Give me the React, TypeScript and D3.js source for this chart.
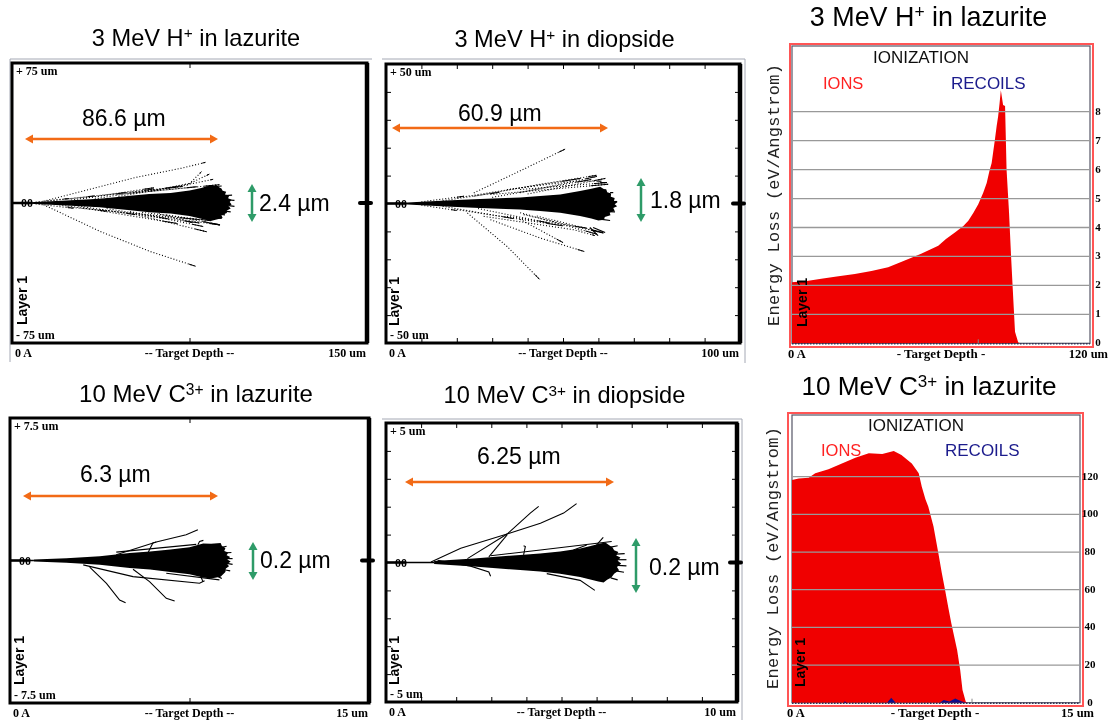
import React, { useEffect, useRef } from 'react';
import * as d3 from 'd3';

type Pt = [number, number];

// SRIM track plots: depth (um), lateral (um)
const hullLazuriteH: Pt[] = [[5, .3], [12, .7], [23, 1.4], [37, 2.3], [50, 3.9], [58, 4.8], [67, 5.4], [75, 6.7], [80, 8], [84, 9.6], [85.5, 9], [86, 9.9], [87.5, 8.4], [88.5, 7.8], [89, 6.6], [90.5, 6], [90, 4.6], [91.8, 4], [91.3, 2.6], [92.8, 1.8], [92, .6], [92.8, -.8], [91.5, -1.6], [92.4, -3], [90.8, -4], [90.8, -5.4], [88.5, -6.5], [89, -8], [86, -9], [84, -9.6], [75, -6.9], [67, -5.6], [58, -4.9], [50, -3.9], [37, -2.3], [23, -1.4], [12, -.7], [5, -.3]];
const tracksLazuriteH: Pt[][] = [
  [[13.3, .9], [51.2, 13.4], [72.2, 18.8], [81.8, 21.8]],
  [[13.3, -.9], [37.2, -15.2], [58.2, -25.9], [77.6, -33.9]],
  [[51.2, 5.4], [74.4, 9.6], [80.1, 16.8]],
  [[58.2, 6.3], [75.2, 10.5], [83.4, 15.5]],
  [[65.2, 8], [76.6, 10.5], [85, 12.7]],
  [[49.9, -5.4], [82.2, -15.4]],
  [[65.2, -6.3], [87.7, -11.6]],
  [[37.2, -3.6], [79.2, -10.7]],
  [[44.2, 4.5], [87.7, 9.8]],
  [[23.1, 2.1], [72.2, 8.9]],
  [[23.1, -2.1], [79.2, -8.9]],
  [[30, 2.4], [60, 8.2]],
  [[30, -2.6], [70, -11]],
  [[15, 1], [35, 3.8]],
  [[20, -1], [40, -4.5]],
  [[25, 1.6], [48, 5.6]],
  [[28, -1.6], [52, -6.2]],
  [[35, 2.2], [60, 7.6]],
  [[40, -3], [66, -8.5]],
  [[45, 3.5], [70, 8.8]],
  [[10, .5], [24, 2.4]],
  [[10, -.5], [26, -2.8]],
  [[49.9, -4.6], [80.8, -12.6]],
  [[58.3, -6.4], [87.9, -11.8]],
  [[49.9, 5.2], [78, 8.7]],
  [[55, -5], [84, -9.5]],
  [[62, -5.6], [76, -10.5]],
];
const whiskersLazuriteH: Pt[][] = [
  [[81.6, -7.3], [88.6, -8.2]], [[80.8, -10], [87.9, -11.8]], [[83.7, -5.4], [90, -6.4]], [[85, 8.7], [88.6, 9.1]],
  [[90, 4], [93, 4.2]], [[91.6, 1.6], [94, 1.4]], [[91.6, -1.4], [94, -1.8]], [[90, -4.4], [92.4, -4.8]],
];

const hullDiopsideH: Pt[] = [[4, .2], [6, .36], [15.5, .96], [24.8, 1.5], [37.9, 2.15], [43.5, 2.7], [49.2, 3.2], [54.8, 4.5], [58, 5.3], [60.5, 6], [61.5, 5.2], [62.2, 5.1], [62.5, 4], [63.6, 3.6], [63.5, 2.4], [64.6, 2], [64.4, .9], [65.4, .5], [64.6, -.3], [65.3, -1], [64.2, -1.6], [64.6, -2.6], [63.2, -3.2], [63.4, -4.2], [61.8, -4.8], [61.6, -5.8], [60, -6.1], [58, -5.4], [54.8, -4.5], [49.2, -3.3], [43.5, -2.7], [37.9, -2.15], [24.8, -1.5], [15.5, -1], [6, -.36], [4, -.2]];
const tracksDiopsideH: Pt[][] = [
  [[24.8, 3.8], [38.9, 12.3], [50.6, 19.5]],
  [[23, -3.4], [34.2, -15.4], [43.4, -27.2]],
  [[29.5, -5.8], [43.6, -12.4], [56, -17.2]],
  [[27.6, -4.6], [53, -9.4], [59, -11.5]],
  [[24.8, 2.6], [43.6, 6.9], [59.5, 10.1]],
  [[34.2, 5], [53, 8], [60.9, 8]],
  [[38.9, -4], [61.4, -10.6]],
  [[29.5, 3.2], [62.8, 6.9]],
  [[34.2, -4.6], [56.7, -8.8]],
  [[20, 2], [55, 9]],
  [[20, -2.2], [50, -8]],
  [[10, .6], [22, 2.6]],
  [[10, -.6], [20, -2.5]],
  [[16, 1], [32, 4]],
  [[16, -1], [36, -5.4]],
  [[30, 2.2], [58, 8.6]],
  [[26, -1.8], [46, -7]],
  [[40, 3.4], [62, 9]],
  [[37.9, 3.9], [59.6, 9.7]],
  [[37.9, 5], [62.4, 7.5]],
  [[37.9, -3.3], [59.6, -11]],
  [[42.6, -4.5], [61.3, -10.4]],
  [[37.9, -5.7], [50, -14]],
];
const whiskersDiopsideH: Pt[][] = [
  [[58.5, -8.6], [61.9, -10.4]], [[57.6, -8.6], [59.9, -11.5]], [[61, -5.7], [63.3, -6.1]], [[62.7, -2.9], [64.7, -3]],
  [[63.8, .7], [65.3, .7]], [[63.3, 3.9], [64.2, 3.9]], [[60.5, 7.5], [62.4, 7.5]],
];

const hullLazuriteC: Pt[] = [[1, .05], [2.36, .12], [3.75, .23], [5, .39], [5.85, .47], [6.7, .58], [7.5, .7], [8.07, .9], [8.4, .88], [8.8, .92], [8.85, .78], [9, .65], [8.95, .5], [9.12, .42], [9.05, .28], [9.2, .18], [9.08, .05], [9.22, -.05], [9.08, -.18], [9.15, -.3], [9.02, -.42], [9, -.6], [8.8, -.85], [8.4, -.95], [8.07, -.9], [7.5, -.72], [6.7, -.6], [5.85, -.47], [5, -.39], [3.75, -.23], [2.36, -.12], [1, -.05]];
const tracksLazuriteC: Pt[][] = [
  [[4.44, .3], [6.11, .97], [7.36, 1.36], [7.85, 1.62]],
  [[3.33, -.35], [4.03, -1.2], [4.58, -2.08], [4.83, -2.22]],
  [[5.14, -.46], [5.83, -1.11], [6.53, -1.99], [6.88, -2.13]],
  [[3.06, -.23], [5.14, -.85], [7.92, -1.2], [8.13, -1.06]],
  [[5.76, .39], [5.97, .92], [6.11, .97]],
  [[7.85, .83], [7.92, 1], [8.08, 1.06]],
  [[7.92, -.67], [8.06, -1.11]],
  [[6.53, -.67], [8.75, -1.02]],
  [[4.44, .44], [7.78, .85]],
];
const whiskersLazuriteC: Pt[][] = [
  [[8.9, .7], [9.05, .75]], [[9, .4], [9.25, .42]], [[9.05, .1], [9.3, .1]], [[9.05, -.15], [9.3, -.2]], [[9, -.5], [9.2, -.55]], [[8.7, -.85], [8.85, -.95]],
];

const hullDiopsideC: Pt[] = [[1.37, .05], [2.5, .14], [3.82, .27], [4.39, .32], [4.96, .39], [5.53, .5], [5.8, .58], [6.1, .68], [6.25, .72], [6.38, .6], [6.45, .55], [6.5, .44], [6.62, .38], [6.56, .25], [6.68, .18], [6.6, .06], [6.7, -.04], [6.58, -.16], [6.64, -.28], [6.5, -.4], [6.42, -.54], [6.3, -.62], [6.2, -.72], [6.05, -.68], [5.53, -.52], [4.96, -.4], [4.39, -.32], [3.82, -.27], [2.5, -.14], [1.37, -.05]];
const tracksDiopsideC: Pt[][] = [
  [[1.28, .02], [2.13, .51], [3.45, 1.02], [4.4, 1.41], [5.06, 1.77], [5.43, 2.11]],
  [[2.32, .14], [3.45, 1.02], [4.11, 1.77], [4.35, 2.01]],
  [[2.93, .2], [3.45, .99]],
  [[1.47, .08], [2.41, -.13], [2.93, -.34], [2.98, -.49]],
  [[2.98, .24], [4.4, .45], [6.43, .75]],
  [[3.92, .27], [3.97, .57], [3.92, .6]],
  [[4.58, -.4], [5.53, -.64], [5.95, -1]],
  [[6, .63], [6.19, .9]],
  [[5.34, .45], [5.72, .63]],
];
const whiskersDiopsideC: Pt[][] = [
  [[6.4, .55], [6.6, .6]], [[6.55, .3], [6.8, .32]], [[6.6, .1], [6.85, .1]], [[6.6, -.1], [6.85, -.12]], [[6.55, -.3], [6.78, -.35]], [[6.4, -.55], [6.6, -.62]],
];

// ionization curves: depth (um), energy loss (eV/Angstrom)
const ionsH: Pt[] = [[0, 2.11], [6, 2.15], [11.8, 2.23], [18, 2.31], [25.3, 2.39], [32, 2.5], [38.7, 2.63], [45.4, 2.86], [52, 3.09], [58.9, 3.37], [62, 3.6], [65.6, 3.83], [69, 4.05], [71, 4.23], [73, 4.5], [75, 4.8], [77, 5.2], [78.4, 5.54], [79.5, 5.95], [80.4, 6.23], [81, 6.6], [81.7, 7.03], [82.4, 7.5], [83, 7.83], [83.6, 8.3], [84.1, 8.74], [85, 8.23], [85.8, 8.2], [86.4, 6], [87.4, 4.51], [88.2, 3.03], [89.1, 1.54], [89.8, .4], [91.1, .03], [92, 0]];
const ionsC: Pt[] = [[0, 118.2], [.35, 119], [.87, 119.5], [1.21, 121.8], [1.9, 124], [2.6, 127], [3.3, 130], [4, 132.4], [4.7, 132], [5.3, 133.7], [5.7, 131.5], [6.24, 127], [6.6, 121.8], [6.76, 114.7], [6.95, 108], [7.1, 104], [7.37, 93.5], [7.63, 79], [7.8, 69], [7.98, 59.5], [8.15, 50], [8.3, 42], [8.6, 28], [8.76, 17.3], [8.88, 6.7], [9.05, .5], [9.15, 0]];
const recoilsC: Pt[] = [[2.7, 0], [2.75, .8], [2.85, 0], [4.95, 0], [5.17, 2.6], [5.4, 0], [7.7, 0], [7.9, 1.4], [8.2, .6], [8.5, 2.2], [8.85, .6], [9.1, 0]];

const ticksY = { energyH: [0, 1, 2, 3, 4, 5, 6, 7, 8], energyC: [0, 20, 40, 60, 80, 100, 120] };

const trackPanels = [
  {
    title: ['3 MeV H', '+', ' in lazurite'], titleX: 196, titleY: 45.5, titleSize: 23.6, xMax: 150, yMax: 75, hull: hullLazuriteH, tracks: tracksLazuriteH, whiskers: whiskersLazuriteH, dotted: true,
    xTicks: [75], yTicks: [] as number[], box: { l: 12, r: 367, t: 63, b: 343 }, topLabel: '+ 75 um', botLabel: '- 75 um', endLabel: '150 um',
    rangeText: '86.6 µm', rangeTextX: 82, rangeTextY: 126, rangeArrow: { x0: 25, x1: 218, y: 139 },
    widthText: '2.4 µm', widthTextX: 259, widthTextY: 211, widthArrow: { x: 252, y0: 184, y1: 222 }, layerX: 27, layerY: 325,
    halo: [[[10, 362], [10, 59], [372, 59]]] as Pt[][],
  },
  {
    title: ['3 MeV H', '+', ' in diopside'], titleX: 564.5, titleY: 47, titleSize: 23.6, xMax: 100, yMax: 50, hull: hullDiopsideH, tracks: tracksDiopsideH, whiskers: whiskersDiopsideH, dotted: true,
    xTicks: [10, 20, 30, 40, 50, 60, 70, 80, 90], yTicks: [-40, -30, -20, -10, 10, 20, 30, 40], box: { l: 386, r: 740, t: 64, b: 343 }, topLabel: '+ 50 um', botLabel: '- 50 um', endLabel: '100 um',
    rangeText: '60.9 µm', rangeTextX: 458, rangeTextY: 121, rangeArrow: { x0: 392, x1: 608, y: 128 },
    widthText: '1.8 µm', widthTextX: 650, widthTextY: 208, widthArrow: { x: 641, y0: 178, y1: 222 }, layerX: 399, layerY: 326,
    halo: [[[382, 59], [745, 59], [745, 363]]] as Pt[][],
  },
  {
    title: ['10 MeV C', '3+', ' in lazurite'], titleX: 196, titleY: 402, titleSize: 24, xMax: 15, yMax: 7.5, hull: hullLazuriteC, tracks: tracksLazuriteC, whiskers: whiskersLazuriteC, dotted: false,
    xTicks: [7.5], yTicks: [] as number[], box: { l: 10, r: 369, t: 418, b: 703 }, topLabel: '+ 7.5 um', botLabel: '- 7.5 um', endLabel: '15 um',
    rangeText: '6.3 µm', rangeTextX: 80, rangeTextY: 482, rangeArrow: { x0: 23, x1: 218, y: 496 },
    widthText: '0.2 µm', widthTextX: 260, widthTextY: 568, widthArrow: { x: 253, y0: 542, y1: 580 }, layerX: 24, layerY: 685,
    halo: [] as Pt[][],
  },
  {
    title: ['10 MeV C', '3+', ' in diopside'], titleX: 564.5, titleY: 403, titleSize: 23.6, xMax: 10, yMax: 5, hull: hullDiopsideC, tracks: tracksDiopsideC, whiskers: whiskersDiopsideC, dotted: false,
    xTicks: [1, 2, 3, 4, 5, 6, 7, 8, 9], yTicks: [-4, -3, -2, -1, 1, 2, 3, 4], box: { l: 386, r: 737, t: 423, b: 702 }, topLabel: '+ 5 um', botLabel: '- 5 um', endLabel: '10 um',
    rangeText: '6.25 µm', rangeTextX: 477, rangeTextY: 464, rangeArrow: { x0: 405, x1: 614, y: 482 },
    widthText: '0.2 µm', widthTextX: 649, widthTextY: 575, widthArrow: { x: 636, y0: 538, y1: 593 }, layerX: 399, layerY: 685,
    halo: [[[382, 419], [742, 419], [742, 720]]] as Pt[][],
  },
];

const ionPanels = [
  {
    title: ['3 MeV H', '+', ' in lazurite'], titleX: 928.5, titleY: 26, titleSize: 26.9, xMax: 120, yMax: 8, yTicks: ticksY.energyH, ions: ionsH, recoils: [] as Pt[],
    box: { l: 792, r: 1090, t: 46, b: 343.3, yTop: 111.7 }, outer: { l: 790, r: 1093, t: 44, b: 347 }, tickX: 1098, endLabel: '120 um', endX: 1108, baseY: 358, midX: 941, startX: 788,
    ionizationX: 921, ionizationY: 63, ionsX: 823, recoilsX: 951, labelsY: 89, yLabelX: 779, yLabelY: 195, layerX: 807, layerY: 327,
  },
  {
    title: ['10 MeV C', '3+', ' in lazurite'], titleX: 929, titleY: 395, titleSize: 26.2, xMax: 15, yMax: 120, yTicks: ticksY.energyC, ions: ionsC, recoils: recoilsC,
    box: { l: 792, r: 1080, t: 415, b: 702.7, yTop: 476.7 }, outer: { l: 788, r: 1083, t: 413, b: 706 }, tickX: 1090, endLabel: '15 um', endX: 1094, baseY: 717, midX: 935, startX: 787,
    ionizationX: 916, ionizationY: 431, ionsX: 821, recoilsX: 945, labelsY: 456, yLabelX: 778, yLabelY: 558, layerX: 805, layerY: 687,
  },
];

const SANS = '"Liberation Sans", Arial, sans-serif';
const SERIF = '"Liberation Serif", serif';
const MONO = '"Liberation Mono", monospace';
const ORANGE = '#f26a12';
const GREEN = '#2e9b68';

const addText = (g, x, y, str, size, opts: any = {}) =>
  g.append('text')
    .attr('x', x).attr('y', y)
    .attr('font-family', opts.family || SANS)
    .attr('font-size', size)
    .attr('font-weight', opts.weight || 'normal')
    .attr('fill', opts.fill || '#000')
    .attr('text-anchor', opts.anchor || 'start')
    .text(str);

const addTitle = (g, parts, x, y, size) => {
  const t = g.append('text')
    .attr('x', x).attr('y', y)
    .attr('font-family', SANS).attr('font-size', size)
    .attr('text-anchor', 'middle');
  const shift = size * 0.3;
  t.append('tspan').text(parts[0]);
  t.append('tspan').attr('dy', -shift).attr('font-size', size * 0.65).text(parts[1]);
  t.append('tspan').attr('dy', shift).text(parts[2]);
};

const addLayer = (g, x, y) =>
  addText(g, x, y, 'Layer 1', 14, { weight: 'bold' })
    .attr('transform', `rotate(-90,${x},${y})`);

// double headed block arrow
const addArrow = (g, x0, y0, x1, y1, color) => {
  const head = 8, half = 4.5;
  const horizontal = y0 === y1;
  g.append('line')
    .attr('x1', horizontal ? x0 + head / 2 : x0).attr('y1', horizontal ? y0 : y0 + head / 2)
    .attr('x2', horizontal ? x1 - head / 2 : x1).attr('y2', horizontal ? y1 : y1 - head / 2)
    .attr('stroke', color).attr('stroke-width', 2.5);
  const tri: Pt[][] = horizontal
    ? [[[x0, y0], [x0 + head, y0 - half], [x0 + head, y0 + half]], [[x1, y1], [x1 - head, y1 - half], [x1 - head, y1 + half]]]
    : [[[x0, y0], [x0 - half, y0 + head], [x0 + half, y0 + head]], [[x1, y1], [x1 - half, y1 - head], [x1 + half, y1 - head]]];
  tri.forEach(p => g.append('polygon').attr('points', p.join(' ')).attr('fill', color));
};

const drawTrackPanel = (svg, p) => {
  const { l, r, t, b } = p.box;
  const x = d3.scaleLinear().domain([0, p.xMax]).range([l, r]);
  const y = d3.scaleLinear().domain([-p.yMax, p.yMax]).range([b, t]);
  const g = svg.append('g');

  addTitle(g, p.title, p.titleX, p.titleY, p.titleSize);

  p.halo.forEach(h => {
    g.append('path').attr('d', d3.line()(h)).attr('fill', 'none').attr('stroke', '#a4a8b4');
  });
  g.append('rect').attr('x', l).attr('y', t).attr('width', r - l).attr('height', b - t).attr('fill', '#fff');

  // inward ticks on all four sides
  const tickLen = 5;
  g.append('g').attr('transform', `translate(0,${b})`)
    .call(d3.axisTop(x).tickValues(p.xTicks).tickSize(tickLen).tickFormat(() => ''));
  g.append('g').attr('transform', `translate(0,${t})`)
    .call(d3.axisBottom(x).tickValues(p.xTicks).tickSize(tickLen).tickFormat(() => ''));
  g.append('g').attr('transform', `translate(${l},0)`)
    .call(d3.axisRight(y).tickValues(p.yTicks).tickSize(tickLen).tickFormat(() => ''));
  g.append('g').attr('transform', `translate(${r},0)`)
    .call(d3.axisLeft(y).tickValues(p.yTicks).tickSize(tickLen).tickFormat(() => ''));
  g.selectAll('.domain').remove();

  const line = d3.line().x(d => x(d[0])).y(d => y(d[1]));

  // tracks first, then the dense core on top
  p.tracks.forEach(tr => {
    g.append('path').attr('d', line(tr)).attr('fill', 'none')
      .attr('stroke', '#000').attr('stroke-width', 1.1)
      .attr('stroke-dasharray', p.dotted ? '1 2' : null);
    if (p.dotted) {
      // the last stretch of each ion path reads as solid
      const last = tr[tr.length - 1], prev = tr[tr.length - 2];
      const tail: Pt[] = [[prev[0] + (last[0] - prev[0]) * 0.85, prev[1] + (last[1] - prev[1]) * 0.85], last];
      g.append('path').attr('d', line(tail)).attr('stroke', '#000').attr('stroke-width', 1).attr('fill', 'none');
    }
  });
  p.whiskers.forEach(tr => {
    g.append('path').attr('d', line(tr)).attr('fill', 'none').attr('stroke', '#000').attr('stroke-width', 1.2);
  });
  g.append('path').attr('d', line(p.hull) + 'Z').attr('fill', '#000');
  g.append('line')
    .attr('x1', x(0)).attr('x2', x(p.hull[0][0])).attr('y1', y(0)).attr('y2', y(0))
    .attr('stroke', '#000').attr('stroke-width', 1.5);
  g.append('line')
    .attr('x1', x(0)).attr('x2', x(0) + 20).attr('y1', y(0)).attr('y2', y(0))
    .attr('stroke', '#000').attr('stroke-width', 2.5);

  // heavy frame, right side thickest
  g.append('rect').attr('x', l).attr('y', t).attr('width', r - l).attr('height', b - t)
    .attr('fill', 'none').attr('stroke', '#000').attr('stroke-width', 3);
  g.append('line').attr('x1', r).attr('x2', r).attr('y1', t).attr('y2', b).attr('stroke', '#000').attr('stroke-width', 4.5);
  g.append('line')
    .attr('x1', r - 7).attr('x2', r + 4).attr('y1', y(0)).attr('y2', y(0))
    .attr('stroke', '#000').attr('stroke-width', 4).attr('stroke-linecap', 'round');

  const lab = { family: SERIF, weight: 'bold' };
  addText(g, l + 4, t + 12, p.topLabel, 12, lab);
  addText(g, l + 4, b - 4, p.botLabel, 12, lab);
  addText(g, l + 9, y(0) + 4, '00', 12, lab);
  addText(g, l + 3, b + 14, '0 A', 12, lab);
  addText(g, (l + r) / 2, b + 14, '-- Target Depth --', 12, { ...lab, anchor: 'middle' });
  addText(g, r - 1, b + 14, p.endLabel, 12, { ...lab, anchor: 'end' });
  addLayer(g, p.layerX, p.layerY);

  addArrow(g, p.rangeArrow.x0, p.rangeArrow.y, p.rangeArrow.x1, p.rangeArrow.y, ORANGE);
  addArrow(g, p.widthArrow.x, p.widthArrow.y0, p.widthArrow.x, p.widthArrow.y1, GREEN);
  addText(g, p.rangeTextX, p.rangeTextY, p.rangeText, 23);
  addText(g, p.widthTextX, p.widthTextY, p.widthText, 23);
};

const drawIonPanel = (svg, p) => {
  const { l, r, t, b, yTop } = p.box;
  const x = d3.scaleLinear().domain([0, p.xMax]).range([l, r]);
  const y = d3.scaleLinear().domain([0, p.yMax]).range([b, yTop]);
  const g = svg.append('g');

  addTitle(g, p.title, p.titleX, p.titleY, p.titleSize);

  g.append('rect').attr('x', p.outer.l).attr('y', p.outer.t)
    .attr('width', p.outer.r - p.outer.l).attr('height', p.outer.b - p.outer.t)
    .attr('fill', '#fff').attr('stroke', '#f55').attr('stroke-width', 2);
  g.append('rect').attr('x', l).attr('y', t).attr('width', r - l).attr('height', b - t)
    .attr('fill', '#fff').attr('stroke', '#556').attr('stroke-width', 1.2);

  const area = d3.area().x(d => x(d[0])).y0(y(0)).y1(d => y(d[1]));
  g.append('path').attr('d', area(p.ions)).attr('fill', '#f00000');
  if (p.recoils.length) g.append('path').attr('d', area(p.recoils)).attr('fill', '#10108c');

  // grey grid runs over the fill
  p.yTicks.filter(v => v > 0).forEach(v => {
    g.append('line').attr('x1', l).attr('x2', r).attr('y1', y(v)).attr('y2', y(v))
      .attr('stroke', '#999').attr('stroke-width', 1.3);
  });
  g.append('line').attr('x1', l).attr('x2', r).attr('y1', b + .5).attr('y2', b + .5)
    .attr('stroke', '#335').attr('stroke-width', 1.5).attr('stroke-dasharray', '1.5 1.5');
  g.append('line').attr('x1', x(p.xMax * 0.625)).attr('x2', x(p.xMax * 0.625)).attr('y1', b - 4).attr('y2', b)
    .attr('stroke', '#888');

  const lab = { family: SERIF, weight: 'bold' };
  p.yTicks.forEach(v => addText(g, p.tickX, y(v) + 3, String(v), 11, { ...lab, anchor: 'middle' }));
  addText(g, p.startX, p.baseY, '0 A', 12.5, lab);
  addText(g, p.midX, p.baseY, '- Target Depth -', 13, { ...lab, anchor: 'middle' });
  addText(g, p.endX, p.baseY, p.endLabel, 12.5, { ...lab, anchor: 'end' });

  addText(g, p.ionizationX, p.ionizationY, 'IONIZATION', 17, { anchor: 'middle', fill: '#111' });
  addText(g, p.ionsX, p.labelsY, 'IONS', 16.5, { fill: '#f22' });
  addText(g, p.recoilsX, p.labelsY, 'RECOILS', 17, { fill: '#1a1a8c' });

  addText(g, p.yLabelX, p.yLabelY, 'Energy Loss (eV/Angstrom)', 17, { family: MONO, anchor: 'middle', fill: '#222' })
    .attr('transform', `rotate(-90,${p.yLabelX},${p.yLabelY})`)
    .attr('textLength', 262).attr('lengthAdjust', 'spacing');
  addLayer(g, p.layerX, p.layerY);
};

const App = () => {
  const ref = useRef(null);

  useEffect(() => {
    const svg = d3.select(ref.current);
    svg.selectAll('*').remove();
    // the source is a scaled-up screenshot, so everything is a touch soft
    svg.append('defs').append('filter')
      .attr('id', 'soft')
      .attr('filterUnits', 'userSpaceOnUse')
      .attr('x', 0).attr('y', 0).attr('width', 1109).attr('height', 724)
      .append('feGaussianBlur').attr('stdDeviation', 0.45);
    const root = svg.append('g').attr('filter', 'url(#soft)');
    trackPanels.forEach(p => drawTrackPanel(root, p));
    ionPanels.forEach(p => drawIonPanel(root, p));
  }, []);

  return (
    <svg
      ref={ref}
      width={1109}
      height={724}
      style={{ position: 'absolute', left: 0, top: 0, background: '#fff' }}
    />
  );
};

export default App;
